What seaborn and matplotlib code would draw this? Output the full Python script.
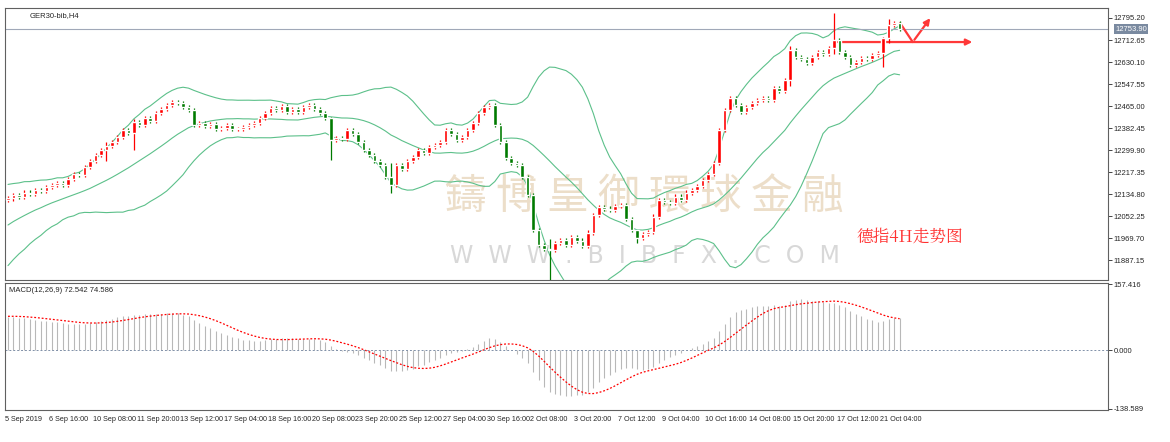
import numpy as np
import pandas as pd
import seaborn as sns
import matplotlib.pyplot as plt
from matplotlib.patches import FancyArrowPatch

# closes before the visible window (estimated, only used to warm up BB / MACD)
warmup_close = [11700, 11720, 11715, 11745, 11770, 11765, 11795, 11820, 11815, 11845,
                11870, 11865, 11895, 11920, 11925, 11950, 11975, 11970, 11995, 12020,
                12015, 12040, 12060, 12055, 12075, 12090, 12080, 12100, 12110, 12112]

# H4 closes
close = [12118, 12130, 12125, 12140, 12135, 12150, 12145, 12160, 12169,
         12175, 12170, 12190, 12210, 12205, 12235, 12260, 12281, 12300, 12315,
         12330, 12350, 12375, 12365, 12405, 12395, 12420, 12410, 12440, 12455,
         12469, 12480, 12476, 12460, 12450, 12394, 12400, 12390, 12398, 12380,
         12383, 12392, 12378, 12380, 12386, 12395, 12400, 12420, 12440,
         12458, 12450, 12465, 12443, 12455, 12443, 12460, 12470, 12455, 12440,
         12420, 12337, 12345, 12340, 12375, 12360, 12330, 12300, 12281, 12260,
         12244, 12200, 12169, 12244, 12230, 12260, 12275, 12300, 12290, 12310,
         12319, 12330, 12375, 12360, 12337, 12350, 12375, 12400, 12440, 12460,
         12469, 12394, 12330, 12270, 12250, 12244, 12200, 12131, 11999, 11943,
         11930, 11925, 11950, 11962, 11945, 11973, 11960, 11940, 11990, 12056,
         12086, 12080, 12075, 12090, 12094, 12040, 11999, 11970, 11985, 11992,
         12050, 12112, 12105, 12100, 12125, 12112, 12140, 12150, 12165, 12187,
         12210, 12251, 12375, 12450, 12495, 12470, 12443, 12460, 12475, 12488,
         12495, 12488, 12533, 12520, 12563, 12675, 12649, 12640, 12626, 12650,
         12668, 12660, 12683, 12713, 12668, 12650, 12619, 12630, 12645, 12640,
         12656, 12665, 12720, 12769, 12775, 12754]

# a few long wicks: index -> (high, low)
wicks = {18: (12330, 12260), 23: (12415, 12300), 59: (12425, 12262), 70: (12250, 12140),
         99: (11965, 11812), 115: (12000, 11950), 143: (12690, 12540), 151: (12814, 12660),
         160: (12725, 12610), 161: (12790, 12700)}

tick_labels = ['5 Sep 2019', '6 Sep 16:00', '10 Sep 08:00', '11 Sep 20:00', '13 Sep 12:00',
               '17 Sep 04:00', '18 Sep 16:00', '20 Sep 08:00', '23 Sep 20:00', '25 Sep 12:00',
               '27 Sep 04:00', '30 Sep 16:00', '2 Oct 08:00', '3 Oct 20:00', '7 Oct 12:00',
               '9 Oct 04:00', '10 Oct 16:00', '14 Oct 08:00', '15 Oct 20:00', '17 Oct 12:00',
               '21 Oct 04:00']
price_ticks = [12795.20, 12712.65, 12630.10, 12547.55, 12465.00, 12382.45, 12299.90,
               12217.35, 12134.80, 12052.25, 11969.70, 11887.15]
macd_ticks = [157.416, 0.0, -138.589]
last_price = 12753.90

# indicators
full = pd.Series(warmup_close + close, dtype=float)
n0 = len(warmup_close)
mid = full.rolling(20).mean()
sd = full.rolling(20).std(ddof=0)
macd = full.ewm(span=12, adjust=False).mean() - full.ewm(span=26, adjust=False).mean()
signal = macd.rolling(9).mean()

df = pd.DataFrame({
    'i': np.arange(len(close)),
    'close': close,
    'open': [warmup_close[-1]] + close[:-1],
    'mid': mid.values[n0:], 'up': (mid + 2 * sd).values[n0:], 'dn': (mid - 2 * sd).values[n0:],
    'macd': macd.values[n0:], 'signal': signal.values[n0:],
})
df['high'] = df[['open', 'close']].max(axis=1) + 8
df['low'] = df[['open', 'close']].min(axis=1) - 8
for k, (h, l) in wicks.items():
    df.loc[k, 'high'] = h
    df.loc[k, 'low'] = l

sns.set_style('white')
plt.rcParams['font.family'] = ['DejaVu Sans']
small = ['Liberation Sans', 'DejaVu Sans']

fig = plt.figure(figsize=(11.7, 4.42), dpi=100)
ax = fig.add_axes([5 / 1170, 1 - 280 / 442, 1103 / 1170, 272 / 442])
axm = fig.add_axes([5 / 1170, 1 - 410 / 442, 1103 / 1170, 127 / 442])

red, green, band = '#ff0000', '#007a00', '#5cc08a'
up = df['close'] >= df['open']
for mask, col in [(up, red), (~up, green)]:
    d = df[mask]
    ax.vlines(d['i'], d['low'], d['high'], color=col, lw=0.9, zorder=3)
    ax.bar(d['i'], (d['close'] - d['open']).abs().clip(lower=3), bottom=d[['open', 'close']].min(axis=1),
           width=0.65, color=col, zorder=4)
for c in ['up', 'mid', 'dn']:
    sns.lineplot(data=df, x='i', y=c, ax=ax, color=band, lw=0.8, zorder=2)
ax.axhline(last_price, color='#a0a8b8', lw=0.8)

step = 5.47
xmax = (1108 - 8) / step
ax.set_xlim(-3 / step, xmax)
ax.set_ylim(12795.2 - (280 - 18) * 3.752, 12795.2 + 10 * 3.752)
ax.yaxis.tick_right()
ax.set_yticks(price_ticks)
ax.set_yticklabels([f'{v:.2f}' for v in price_ticks])
ax.set_xticks([])
ax.set_xlabel('')
ax.set_ylabel('')
ax.text(xmax + 1.3, last_price, f'{last_price:.2f}', fontsize=5.5, color='white', va='center',
        family=small, bbox=dict(boxstyle='square,pad=0.15', fc='#7a8aa0', ec='none'), clip_on=False)
ax.text(0.022, 0.985, 'GER30-bib,H4', transform=ax.transAxes, fontsize=5.5, va='top', family=small)

# watermark
ax.text(0.58, 0.3, '鑄 博 皇 御 環 球 金 融', transform=ax.transAxes, fontsize=30, color='#e8d6bc',
        ha='center', va='center', family=['Noto Sans CJK TC', 'DejaVu Sans'], alpha=0.8, zorder=1)
ax.text(0.58, 0.09, 'W  W  W  .  B  I  B  F  X  .  C  O  M', transform=ax.transAxes, fontsize=17,
        color='#d8d8d8', ha='center', va='center', zorder=1)
ax.text(0.772, 0.14, '德指4H走势图', transform=ax.transAxes, fontsize=12, color='#ff3030',
        family=['Noto Serif CJK SC', 'Noto Sans CJK SC', 'DejaVu Sans'])

# arrows
arr = dict(arrowstyle='-|>', color='#ff3838', lw=1.6, mutation_scale=9)
ax.add_patch(FancyArrowPatch((151.2, 12705), (176.8, 12705), **arr))
ax.plot([163.1, 165.4], [12776, 12705], color='#ff3838', lw=1.6)
ax.add_patch(FancyArrowPatch((165.4, 12705), (168.9, 12803), **arr))

# MACD pane
axm.vlines(df['i'], 0, df['macd'], color='#b8b8b8', lw=0.8)
sns.lineplot(data=df, x='i', y='signal', ax=axm, color=red, lw=0.9, linestyle=(0, (1.5, 1.5)))
axm.axhline(0, color='#8090a8', lw=0.7, linestyle=(0, (2, 2)))
axm.set_xlim(-3 / step, xmax)
axm.set_ylim(-138.589 - 3, 157.416 + 3)
axm.yaxis.tick_right()
axm.set_yticks(macd_ticks)
axm.set_yticklabels(['157.416', '0.000', '-138.589'])
axm.set_xticks(np.arange(0, 8 * len(tick_labels), 8) - 0.5)
axm.set_xticklabels(tick_labels, ha='left')
axm.set_xlabel('')
axm.set_ylabel('')
axm.text(0.004, 0.97, 'MACD(12,26,9) 72.542 74.586', transform=axm.transAxes, fontsize=5.5, va='top',
         family=small)

for a in (ax, axm):
    a.tick_params(labelsize=5.5, length=3, width=0.6, direction='out', pad=1)
    for lab in a.get_xticklabels() + a.get_yticklabels():
        lab.set_family(small)
    for s in a.spines.values():
        s.set_color('#606060')
        s.set_linewidth(0.8)
axm.tick_params(axis='x', labelsize=5.2)

fig.savefig('out.png', dpi=100)
